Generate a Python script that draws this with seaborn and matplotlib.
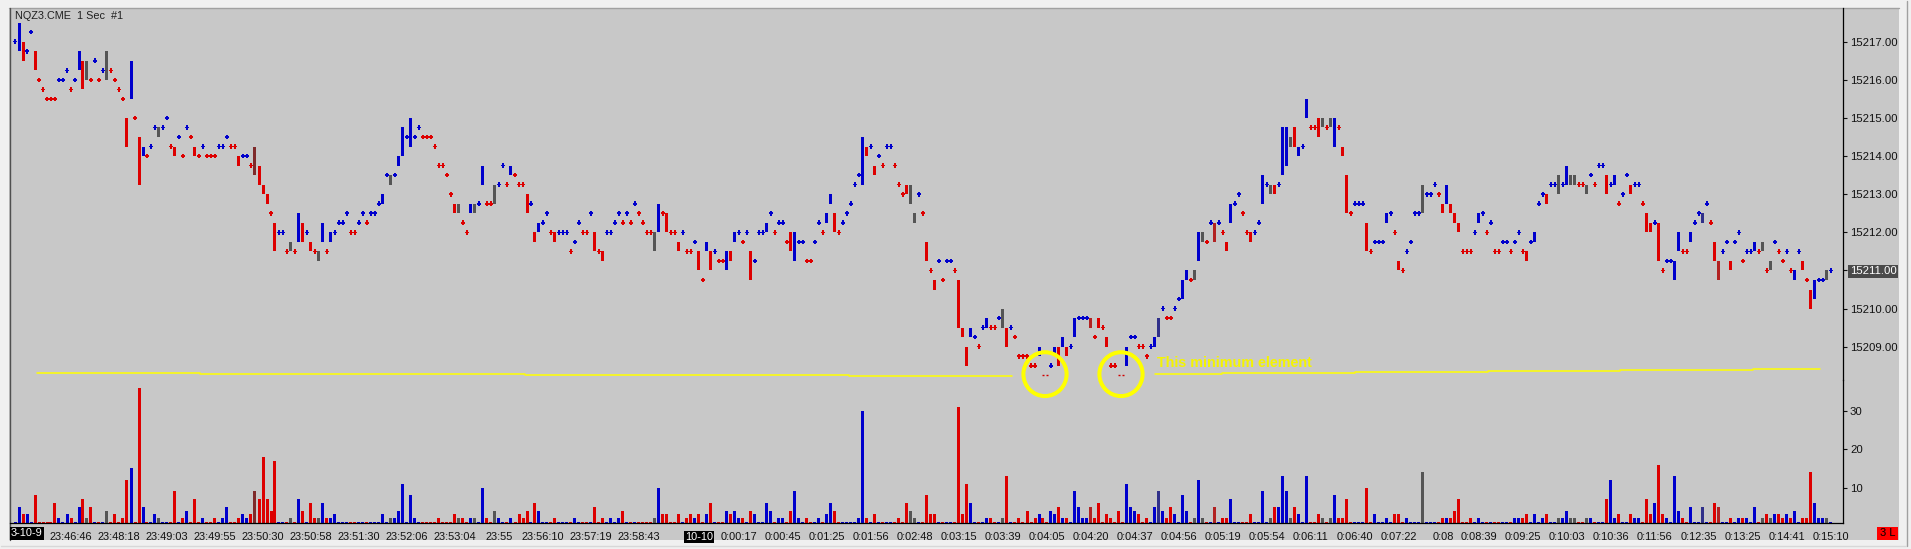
import numpy as np
import pandas as pd
import matplotlib
matplotlib.use("Agg")
import matplotlib.pyplot as plt
from matplotlib.patches import Ellipse, Rectangle
from matplotlib.lines import Line2D
import seaborn as sns

# Bars: price in ticks of 0.25 above 15209.00
base_price = 15209.00
tick_size = 0.25

high_ticks = [
    32, 34, 32, 31, 33, 31, 28, 27, 26, 26, 26, 28, 28, 29, 27, 28, 31, 30, 30, 28,
    30, 28, 29, 31, 29, 28, 27, 26, 24, 30, 24, 22, 21, 20, 21, 23, 23, 23, 24, 21,
    21, 22, 20, 23, 22, 21, 20, 21, 20, 20, 20, 21, 21, 22, 21, 21, 20, 20, 20, 19,
    21, 19, 17, 16, 14, 13, 12, 12, 10, 11, 10, 14, 13, 12, 11, 10, 10, 13, 10, 12,
    12, 13, 13, 14, 12, 12, 13, 14, 13, 14, 14, 15, 16, 18, 18, 18, 20, 23, 22, 24,
    22, 23, 22, 22, 22, 21, 19, 19, 18, 16, 15, 15, 13, 12, 15, 15, 15, 19, 15, 15,
    17, 17, 19, 17, 19, 18, 17, 17, 16, 15, 12, 13, 13, 14, 12, 12, 12, 12, 12, 10,
    11, 13, 12, 12, 14, 12, 10, 10, 12, 12, 13, 14, 13, 14, 13, 15, 14, 13, 12, 12,
    12, 15, 14, 14, 12, 12, 11, 12, 10, 10, 11, 10, 7, 11, 10, 10, 9, 9, 10, 10,
    12, 12, 11, 12, 10, 9, 12, 12, 13, 14, 12, 13, 13, 11, 12, 12, 11, 11, 9, 9,
    11, 13, 12, 14, 16, 14, 12, 13, 14, 15, 17, 18, 22, 21, 21, 19, 20, 19, 21, 21,
    19, 17, 16, 17, 17, 14, 16, 14, 11, 8, 7, 9, 7, 9, 9, 8, 7, 2, 0, 2,
    1, 0, 2, 3, 2, 2, 3, 4, 2, 2, 1, -1, -1, -1, -2, -2, 0, -3, -3, -2,
    0, 0, 1, 0, 0, 3, 3, 3, 3, 3, 1, 3, 2, 1, -2, -2, -3, -3, 0, 1,
    1, 0, 0, -1, 0, 1, 3, 4, 3, 3, 4, 5, 7, 8, 7, 8, 12, 12, 11, 13,
    13, 13, 12, 11, 15, 15, 16, 14, 12, 12, 12, 13, 18, 17, 17, 17, 17, 23, 23, 22,
    23, 21, 21, 26, 23, 23, 24, 24, 23, 24, 24, 23, 21, 18, 14, 15, 15, 15, 13, 10,
    11, 11, 11, 14, 14, 12, 9, 8, 10, 11, 14, 14, 17, 16, 16, 17, 16, 15, 17, 15,
    14, 13, 10, 10, 10, 12, 14, 14, 12, 13, 10, 10, 11, 11, 10, 11, 12, 10, 10, 11,
    12, 15, 16, 16, 17, 17, 18, 17, 19, 18, 18, 17, 17, 17, 18, 17, 19, 19, 18, 17,
    18, 15, 16, 18, 17, 17, 17, 15, 14, 13, 13, 13, 8, 9, 9, 9, 12, 10, 10, 12,
    13, 14, 14, 15, 13, 11, 9, 10, 11, 9, 11, 12, 9, 10, 10, 11, 10, 11, 8, 9,
    11, 10, 9, 10, 8, 8, 10, 9, 7, 6, 7, 7, 7, 8, 8,
]

low_ticks = [
    32, 31, 30, 31, 33, 29, 28, 27, 26, 26, 26, 28, 28, 29, 27, 28, 29, 27, 28, 28,
    30, 28, 29, 28, 29, 28, 27, 26, 21, 26, 24, 17, 20, 20, 21, 23, 22, 23, 24, 21,
    20, 22, 20, 23, 22, 20, 20, 21, 20, 20, 20, 21, 21, 22, 21, 21, 19, 20, 20, 19,
    18, 17, 16, 15, 14, 10, 12, 12, 10, 10, 10, 11, 11, 12, 10, 10, 9, 11, 10, 11,
    12, 13, 13, 14, 12, 12, 13, 14, 13, 14, 14, 15, 15, 18, 17, 18, 19, 20, 22, 21,
    22, 23, 22, 22, 22, 21, 19, 19, 18, 16, 14, 14, 13, 12, 14, 14, 15, 17, 15, 15,
    15, 17, 19, 17, 18, 18, 17, 17, 14, 15, 11, 12, 13, 14, 12, 11, 12, 12, 12, 10,
    11, 13, 12, 12, 14, 10, 10, 9, 12, 12, 13, 14, 13, 14, 13, 15, 14, 13, 12, 12,
    10, 12, 14, 12, 12, 12, 10, 12, 10, 10, 11, 8, 7, 10, 8, 10, 9, 9, 8, 9,
    11, 12, 11, 12, 7, 9, 12, 12, 12, 14, 12, 13, 13, 11, 10, 9, 11, 11, 9, 9,
    11, 13, 12, 13, 15, 12, 12, 13, 14, 15, 17, 18, 17, 20, 21, 18, 20, 19, 21, 21,
    19, 17, 16, 16, 15, 13, 16, 14, 9, 8, 6, 9, 7, 9, 9, 8, 2, 1, -2, 1,
    1, 0, 2, 2, 2, 2, 3, 2, 0, 2, 1, -1, -1, -1, -2, -2, -1, -3, -3, -2,
    -1, -2, 0, -1, 0, 1, 3, 3, 3, 2, 1, 2, 2, 0, -2, -2, -3, -3, -2, 1,
    1, 0, 0, -1, 0, 0, 1, 4, 3, 3, 4, 5, 5, 7, 7, 7, 9, 11, 11, 13,
    11, 13, 12, 10, 13, 15, 16, 14, 12, 11, 12, 13, 15, 17, 16, 16, 17, 18, 19, 21,
    21, 20, 21, 24, 23, 23, 22, 23, 23, 23, 21, 23, 20, 14, 14, 15, 15, 15, 10, 10,
    11, 11, 11, 13, 14, 12, 8, 8, 10, 11, 14, 14, 14, 16, 16, 17, 16, 14, 15, 14,
    13, 12, 10, 10, 10, 12, 13, 14, 12, 13, 10, 10, 11, 11, 10, 11, 12, 10, 9, 11,
    11, 15, 16, 15, 17, 17, 16, 17, 17, 17, 17, 17, 17, 16, 18, 17, 19, 19, 16, 17,
    17, 15, 16, 18, 16, 17, 17, 15, 12, 12, 13, 9, 8, 9, 9, 7, 10, 10, 10, 11,
    13, 14, 13, 15, 13, 9, 7, 10, 11, 8, 11, 12, 9, 10, 10, 10, 10, 10, 8, 8,
    11, 10, 9, 10, 8, 7, 10, 8, 7, 4, 5, 7, 7, 7, 8,
]

# b = up (blue), r = down (red), g = unchanged (gray), d/f = dark reds, n = navy
bar_codes = (
    "bbrbbrrrrr" "rbbbrbbrgr" "brbgrrrrrb" "rrbrbbgbbr" "rbrbrrrbrr"
    "rbbbrrrbbr" "drrrrrbbrg" "rbrbrrgbrb" "bbbbrrbbrb" "bbbbgbbbbb"
    "bbrrrrrrrr" "rgrrbgbbrr" "gbbrbrrrrb" "rbbbrrbbbr" "bbrrbrrrbb"
    "bbrbrbrrrr" "gbrrrrrbrr" "brrbrbrrbr" "bbrbrbbbbb" "rbbrrbbbrr"
    "bbrbbrrbbb" "bbbrbrbrbb" "rrrrggbrrr" "rbrbbrrrrb" "brbbrrbgrb"
    "rrrrrrbrrb" "brbrbbbbbf" "rrrrrrrrbb" "brrrbbnbrr" "bbbbrgbgrb"
    "fbrrbbbrrr" "bbbbgrbbbg" "rbbbrrrgrg" "brrrrbbbrr" "bbbbbrrrbb"
    "bbgbbbrrbr" "rrrrrbbbrb" "rrbbrbbrrb" "bbbrbbgbbg" "grrgbrbbrb"
    "brbbrbbrrr" "brrbbbbrrb" "bbnbrrfbbr" "bbrbbbrgrg" "brrbrbbrrr"
    "bbbgb"
)

volume = [
    1, 5, 3, 3, 1, 8, 1, 1, 1, 1, 6, 2, 1, 3, 2, 1, 5, 7, 2, 5,
    1, 1, 1, 4, 1, 3, 1, 2, 12, 15, 1, 36, 5, 1, 1, 3, 2, 1, 1, 1,
    9, 1, 2, 4, 1, 7, 1, 2, 1, 1, 2, 1, 2, 5, 1, 1, 2, 3, 2, 3,
    9, 7, 18, 7, 4, 17, 1, 1, 1, 2, 1, 7, 4, 1, 6, 2, 2, 6, 2, 2,
    3, 1, 1, 1, 1, 1, 1, 1, 1, 1, 1, 1, 3, 1, 2, 2, 4, 11, 1, 8,
    2, 1, 1, 1, 1, 1, 2, 1, 1, 1, 3, 2, 2, 1, 2, 2, 1, 10, 2, 1,
    4, 2, 1, 1, 2, 1, 3, 2, 4, 1, 6, 4, 1, 1, 1, 2, 1, 1, 1, 1,
    2, 1, 1, 1, 1, 5, 1, 2, 1, 2, 1, 2, 4, 1, 1, 1, 1, 1, 1, 1,
    2, 10, 3, 3, 1, 1, 3, 1, 2, 3, 2, 3, 1, 3, 6, 1, 1, 1, 4, 3,
    4, 2, 2, 1, 4, 3, 1, 1, 6, 4, 1, 2, 2, 1, 4, 9, 2, 1, 2, 1,
    1, 2, 1, 3, 6, 4, 1, 1, 1, 1, 1, 2, 30, 2, 1, 3, 1, 1, 1, 1,
    1, 2, 1, 6, 4, 2, 1, 1, 8, 3, 3, 1, 1, 1, 1, 1, 31, 3, 11, 6,
    1, 1, 1, 2, 2, 1, 1, 2, 13, 1, 1, 2, 1, 4, 1, 2, 3, 2, 1, 4,
    3, 5, 2, 2, 1, 9, 5, 2, 2, 5, 2, 6, 1, 3, 2, 1, 4, 1, 11, 5,
    4, 3, 1, 2, 1, 5, 9, 4, 2, 5, 3, 1, 8, 4, 1, 2, 12, 2, 1, 1,
    5, 1, 2, 2, 7, 1, 1, 1, 1, 3, 1, 1, 9, 1, 2, 5, 5, 13, 9, 2,
    5, 3, 1, 13, 1, 1, 3, 2, 1, 2, 8, 2, 2, 7, 1, 1, 1, 1, 10, 1,
    3, 1, 1, 2, 1, 3, 3, 1, 2, 1, 1, 1, 14, 1, 1, 1, 1, 2, 2, 2,
    4, 7, 1, 1, 2, 1, 2, 1, 1, 1, 1, 1, 1, 1, 1, 2, 2, 2, 3, 1,
    3, 1, 2, 3, 1, 1, 2, 2, 4, 2, 2, 1, 1, 2, 2, 1, 1, 1, 7, 12,
    2, 3, 1, 1, 3, 2, 2, 1, 7, 3, 6, 16, 3, 2, 1, 13, 4, 2, 1, 5,
    1, 1, 5, 1, 1, 6, 5, 1, 1, 2, 1, 2, 2, 2, 1, 5, 1, 2, 3, 2,
    3, 3, 2, 3, 2, 4, 1, 2, 2, 14, 6, 2, 2, 2, 1,
]

# the two "minimum element" bars (tiny red dashes inside the circles)
min_marks = [[257, 258], [276, 277]]

price_ticks = [15209, 15210, 15211, 15212, 15213, 15214, 15215, 15216, 15217]
last_price = 15211.00
volume_ticks = [10, 20, 30]

time_tick_pos = [14, 26, 38, 50, 62, 74, 86, 98, 110, 121, 132, 144, 156, 171,
                 181, 192, 203, 214, 225, 236, 247, 258, 269, 280, 291, 302, 313,
                 324, 335, 346, 357, 366, 377, 388, 399, 410, 421, 432, 443, 454]
time_tick_labels = ["23:46:46", "23:48:18", "23:49:03", "23:49:55", "23:50:30",
                    "23:50:58", "23:51:30", "23:52:06", "23:53:04", "23:55",
                    "23:56:10", "23:57:19", "23:58:43", "10-10", "0:00:17",
                    "0:00:45", "0:01:25", "0:01:56", "0:02:48", "0:03:15",
                    "0:03:39", "0:04:05", "0:04:20", "0:04:37", "0:04:56",
                    "0:05:19", "0:05:54", "0:06:11", "0:06:40", "0:07:22",
                    "0:08", "0:08:39", "0:09:25", "0:10:03", "0:10:36",
                    "0:11:56", "0:12:35", "0:13:25", "0:14:41", "0:15:10"]
date_labels = ["3-10-9", "10-10"]

# yellow step line (bar positions and level)
yellow_start = [5.5, 46.25, 127.5, 208.5, 285, 301.75, 335, 368.25, 401.25, 434.5]
yellow_end = [46.25, 127.5, 208.5, 249.25, 301.75, 335, 368.25, 401.25, 434.5, 451.25]
yellow_level = [15208.30, 15208.28, 15208.25, 15208.22, 15208.28, 15208.30,
                15208.33, 15208.36, 15208.39, 15208.41]

assert len(high_ticks) == len(low_ticks) == len(bar_codes) == len(volume) == 455

colors = {"b": "#0000CC", "r": "#DD0000", "g": "#555555",
          "d": "#7F2A2A", "f": "#B22222", "n": "#30308A"}

df = pd.DataFrame({"i": np.arange(len(volume)), "high": high_ticks,
                   "low": low_ticks, "code": list(bar_codes), "volume": volume})
df["hi_p"] = base_price + df["high"] * tick_size
df["lo_p"] = base_price + df["low"] * tick_size
df["hex"] = df["code"].map(colors)
marked = [i for pair in min_marks for i in pair]

sns.set_style("white")
plt.rcParams["font.family"] = ["Liberation Sans", "DejaVu Sans"]

W, H = 1911, 549
fig = plt.figure(figsize=(W / 100, H / 100), dpi=100)
fig.patch.set_facecolor("#F0F0F0")


def fx(px):
    return px / W


def fy(py):
    return 1 - py / H


# window frame (kept behind the axes)
fig.patches.append(Rectangle((fx(9), fy(540)), fx(1899 - 9), (540 - 8) / H,
                             transform=fig.transFigure, facecolor="#C8C8C8",
                             edgecolor="none", zorder=-10))
for xs, ys, c in [([9, 1899], [7.5, 7.5], "#A0A0A0"),
                  ([9.5, 9.5], [8, 540], "#505050"),
                  ([1906.5, 1906.5], [1, 546], "#A0A0A0"),
                  ([1, 1906], [545.5, 545.5], "#D8D8D8")]:
    fig.lines.append(Line2D([fx(v) for v in xs], [fy(v) for v in ys],
                            transform=fig.transFigure, color=c, lw=1, zorder=-5))

# ---- price region ----
ax = fig.add_axes([fx(10), fy(380), (1843 - 10) / W, (380 - 8) / H])
ax.patch.set_alpha(0)

rng = df[df["high"] > df["low"]]
ax.bar(rng["i"], rng["hi_p"] - rng["lo_p"], bottom=rng["lo_p"], width=0.75,
       color=rng["hex"], linewidth=0)

dots = df[(df["high"] == df["low"]) & ~df["i"].isin(marked)]
sns.scatterplot(data=dots, x="i", y="hi_p", hue="code", palette=colors, marker="P",
                s=11, linewidth=0, legend=False, ax=ax)

mk = df[df["i"].isin(marked)]
ax.scatter(mk["i"], mk["lo_p"], marker="_", s=4, linewidths=1, color="#D00000")

segs = pd.DataFrame({"seg": np.repeat(np.arange(len(yellow_level)), 2),
                     "x": np.ravel(np.column_stack([yellow_start, yellow_end])),
                     "level": np.repeat(yellow_level, 2)})
sns.lineplot(data=segs, x="x", y="level", units="seg", estimator=None, sort=False,
             color="#FFFF00", lw=1.1, ax=ax)

for pair in min_marks:
    cx = np.mean(pair)
    cy = base_price + df.loc[pair, "low"].mean() * tick_size + 0.03
    ax.add_patch(Ellipse((cx, cy), width=10.8, height=1.15, fill=False,
                         edgecolor="#FFFF00", lw=2.9, zorder=5, clip_on=False))

ax.text(285.5, 15208.57, "This minimum element", color="#F4F400", fontsize=10.3,
        fontweight="bold", ha="left", va="center")

ax.set_xlim(-1.25, 457)
ax.set_ylim(15208.1266, 15217.884)
ax.set_xlabel("")
ax.set_ylabel("")
ax.set_xticks([])
ax.yaxis.tick_right()
ax.set_yticks(price_ticks)
ax.set_yticklabels([f"{p:.2f}" for p in price_ticks])
ax.tick_params(axis="y", length=3, width=0.8, pad=2, labelsize=8.2,
               colors="#111111", direction="out")
for side in ["left", "top", "bottom"]:
    ax.spines[side].set_visible(False)
ax.spines["right"].set_color("black")
ax.spines["right"].set_linewidth(0.9)
for lbl in ax.get_yticklabels():
    if lbl.get_text() == f"{last_price:.2f}":
        lbl.set_color("white")
        lbl.set_bbox(dict(facecolor="#4A4A4A", edgecolor="none", pad=1.2))

# ---- volume region ----
axv = fig.add_axes([fx(10), fy(523), (1843 - 10) / W, (523 - 380) / H])
axv.patch.set_alpha(0)
axv.bar(df["i"], df["volume"], width=0.75, color=df["hex"], linewidth=0)
axv.set_xlim(-1.25, 457)
axv.set_ylim(0.75, 38.08)
axv.yaxis.tick_right()
axv.set_yticks(volume_ticks)
axv.set_yticklabels([str(v) for v in volume_ticks])
axv.set_xticks(time_tick_pos)
axv.set_xticklabels(time_tick_labels)
axv.tick_params(axis="y", length=3, width=0.8, pad=2, labelsize=8.2,
                colors="#111111", direction="out")
axv.tick_params(axis="x", length=4, width=0.8, pad=2.5, labelsize=7.9,
                colors="#111111", direction="out")
for side in ["left", "top"]:
    axv.spines[side].set_visible(False)
for side in ["right", "bottom"]:
    axv.spines[side].set_color("black")
    axv.spines[side].set_linewidth(0.9)
for lbl in axv.get_xticklabels():
    if lbl.get_text() in date_labels:
        lbl.set_color("white")
        lbl.set_bbox(dict(facecolor="black", edgecolor="none", pad=1.0))

fig.text(fx(11), fy(533.5), date_labels[0], color="white", fontsize=7.9,
         ha="left", va="center",
         bbox=dict(facecolor="black", edgecolor="none", pad=1.0))

fig.text(fx(15), fy(16), "NQZ3.CME  1 Sec  #1", color="#202020", fontsize=7.8,
         ha="left", va="center")

fig.patches.append(Rectangle((fx(1877), fy(540)), fx(21), 13 / H,
                             transform=fig.transFigure, facecolor="#FF0000",
                             edgecolor="none"))
fig.text(fx(1887.5), fy(533.5), "3 L", color="black", fontsize=8, ha="center",
         va="center")

fig.savefig("out.png", dpi=100, facecolor=fig.get_facecolor())
